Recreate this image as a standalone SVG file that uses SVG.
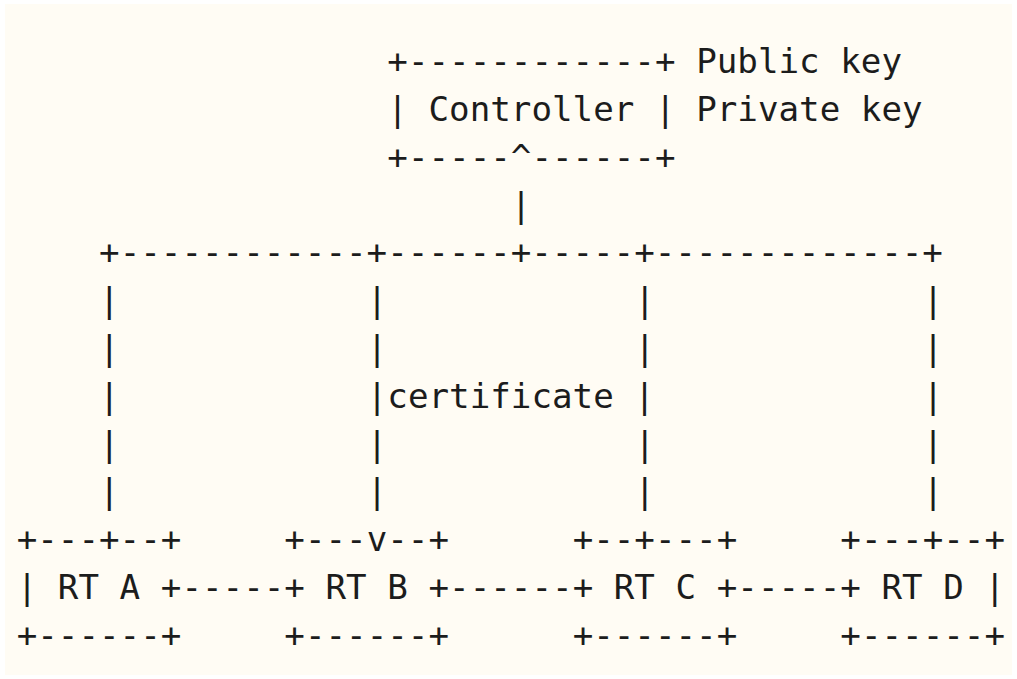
<svg xmlns="http://www.w3.org/2000/svg" width="1017" height="679" viewBox="0 0 1017 679">
  <style>
    text { font-family: "DejaVu Sans Mono", "Liberation Mono", monospace; font-size: 34.2px; fill: #1c1c1c; white-space: pre; }
  </style>
  <rect x="0" y="0" width="1017" height="679" fill="#ffffff"/>
  <rect x="5" y="4" width="1007" height="671" fill="#fffcf4"/>

  <!-- Controller box with its key labels -->
  <g id="controller">
    <text x="387.32" y="73" xml:space="preserve">+------------+</text>
    <text x="387.32" y="120.8" xml:space="preserve">| Controller |</text>
    <text x="387.32" y="168.6" xml:space="preserve">+-----^------+</text>
    <text x="696.17" y="73" xml:space="preserve">Public key</text>
    <text x="696.17" y="120.8" xml:space="preserve">Private key</text>
  </g>

  <!-- Routers -->
  <g id="rt-a">
    <text x="16.7" y="551.2" xml:space="preserve">+---+--+</text>
    <text x="16.7" y="599" xml:space="preserve">| RT A +</text>
    <text x="16.7" y="646.8" xml:space="preserve">+------+</text>
  </g>
  <g id="rt-b">
    <text x="284.37" y="551.2" xml:space="preserve">+---v--+</text>
    <text x="284.37" y="599" xml:space="preserve">+ RT B +</text>
    <text x="284.37" y="646.8" xml:space="preserve">+------+</text>
  </g>
  <g id="rt-c">
    <text x="572.63" y="551.2" xml:space="preserve">+--+---+</text>
    <text x="572.63" y="599" xml:space="preserve">+ RT C +</text>
    <text x="572.63" y="646.8" xml:space="preserve">+------+</text>
  </g>
  <g id="rt-d">
    <text x="840.3" y="551.2" xml:space="preserve">+---+--+</text>
    <text x="840.3" y="599" xml:space="preserve">+ RT D |</text>
    <text x="840.3" y="646.8" xml:space="preserve">+------+</text>
  </g>

  <!-- Connectors: controller drop, distribution bus, router drops, router links -->
  <g id="connectors">
    <text x="510.86" y="216.5">|</text>
    <text x="99.06" y="264.3" xml:space="preserve">+------------+------+-----+-------------+</text>

    <text x="99.06" y="312.1">|</text>
    <text x="99.06" y="359.9">|</text>
    <text x="99.06" y="407.7">|</text>
    <text x="99.06" y="455.6">|</text>
    <text x="99.06" y="503.4">|</text>

    <text x="366.73" y="312.1">|</text>
    <text x="366.73" y="359.9">|</text>
    <text x="366.73" y="407.7" xml:space="preserve">|certificate |</text>
    <text x="366.73" y="455.6">|</text>
    <text x="366.73" y="503.4">|</text>

    <text x="634.4" y="312.1">|</text>
    <text x="634.4" y="359.9">|</text>
    <text x="634.4" y="455.6">|</text>
    <text x="634.4" y="503.4">|</text>

    <text x="922.66" y="312.1">|</text>
    <text x="922.66" y="359.9">|</text>
    <text x="922.66" y="407.7">|</text>
    <text x="922.66" y="455.6">|</text>
    <text x="922.66" y="503.4">|</text>

    <text x="181.42" y="599" xml:space="preserve">-----</text>
    <text x="449.09" y="599" xml:space="preserve">------</text>
    <text x="737.35" y="599" xml:space="preserve">-----</text>
  </g>
</svg>
